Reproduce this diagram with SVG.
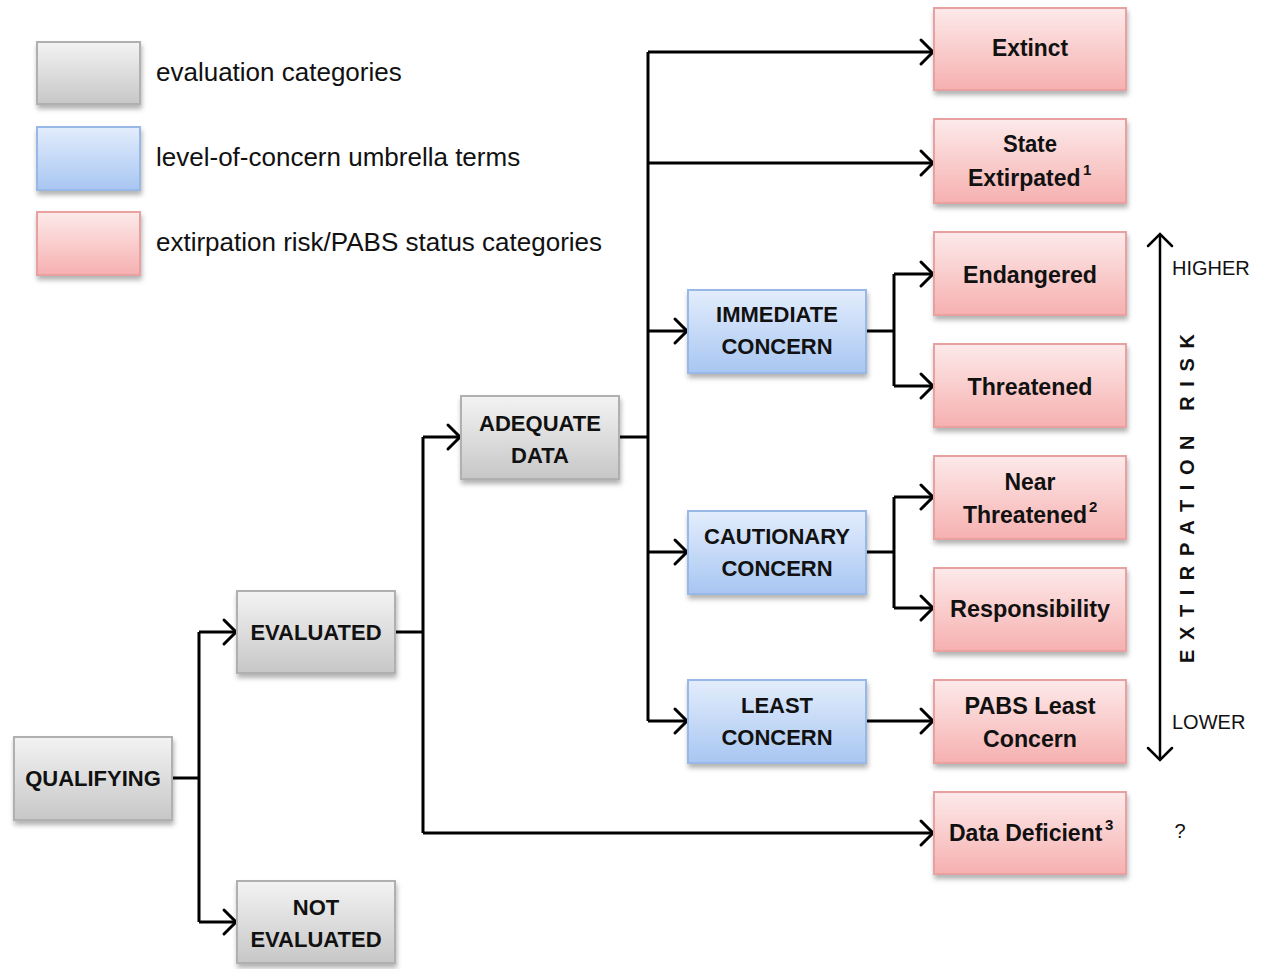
<svg xmlns="http://www.w3.org/2000/svg" width="1262" height="969" viewBox="0 0 1262 969">
<defs>
<linearGradient id="gGray" x1="0" y1="0" x2="0" y2="1"><stop offset="0" stop-color="#f3f3f3"/><stop offset="1" stop-color="#c7c7c7"/></linearGradient>
<linearGradient id="gBlue" x1="0" y1="0" x2="0" y2="1"><stop offset="0" stop-color="#e3edfc"/><stop offset="1" stop-color="#a8c6f2"/></linearGradient>
<linearGradient id="gPink" x1="0" y1="0" x2="0" y2="1"><stop offset="0" stop-color="#fdeaea"/><stop offset="1" stop-color="#f6b0b0"/></linearGradient>
<filter id="sh" x="-10%" y="-10%" width="125%" height="135%"><feDropShadow dx="1" dy="4" stdDeviation="2.5" flood-color="#000" flood-opacity="0.3"/></filter>
<marker id="arr" markerUnits="userSpaceOnUse" markerWidth="20" markerHeight="30" viewBox="0 0 20 30" refX="16" refY="15" orient="auto"><path d="M4,3 L16,15 L4,27" fill="none" stroke="#000" stroke-width="3" stroke-linecap="round"/></marker>
<marker id="arrS" markerUnits="userSpaceOnUse" markerWidth="20" markerHeight="30" viewBox="0 0 20 30" refX="16" refY="15" orient="auto-start-reverse"><path d="M4,3 L16,15 L4,27" fill="none" stroke="#000" stroke-width="2.5" stroke-linecap="round"/></marker>
</defs>
<style>
.gray{fill:url(#gGray);stroke:#b0b0b0;stroke-width:2;filter:url(#sh)}
.blue{fill:url(#gBlue);stroke:#98b8e8;stroke-width:2;filter:url(#sh)}
.pink{fill:url(#gPink);stroke:#e8a0a0;stroke-width:2;filter:url(#sh)}
.cap{font-family:"Liberation Sans",Arial,sans-serif;font-weight:bold;font-size:22px;fill:#111;text-anchor:middle}
.pt{font-family:"Liberation Sans",Arial,sans-serif;font-weight:bold;font-size:24px;fill:#111;text-anchor:middle}
.pts{font-family:"Liberation Sans",Arial,sans-serif;font-weight:bold;font-size:23px;fill:#111}
.sup{font-family:"Liberation Sans",Arial,sans-serif;font-weight:bold;font-size:15px;fill:#111}
.leg{font-family:"Liberation Sans",Arial,sans-serif;font-size:26px;fill:#111}
.sm{font-family:"Liberation Sans",Arial,sans-serif;font-size:20px;fill:#111}
.ln{fill:none;stroke:#000;stroke-width:3}
</style>
<g id="legend">
<rect class="gray" x="37" y="42" width="103" height="62"/>
<rect class="blue" x="37" y="127" width="103" height="63"/>
<rect class="pink" x="37" y="212" width="103" height="63"/>
<text class="leg" x="156" y="81">evaluation categories</text>
<text class="leg" x="156" y="166">level-of-concern umbrella terms</text>
<text class="leg" x="156" y="251">extirpation risk/PABS status categories</text>
</g>
<g id="connectors">
<path class="ln" d="M172,778 H199"/>
<path class="ln" d="M199,632 V922"/>
<path class="ln" d="M199,632 H236" marker-end="url(#arr)"/>
<path class="ln" d="M199,922 H236" marker-end="url(#arr)"/>
<path class="ln" d="M395,632 H423"/>
<path class="ln" d="M423,437 V833"/>
<path class="ln" d="M423,437 H460" marker-end="url(#arr)"/>
<path class="ln" d="M423,833 H933" marker-end="url(#arr)"/>
<path class="ln" d="M619,437 H648"/>
<path class="ln" d="M648,52 V721"/>
<path class="ln" d="M648,52 H933" marker-end="url(#arr)"/>
<path class="ln" d="M648,163 H933" marker-end="url(#arr)"/>
<path class="ln" d="M648,331 H687" marker-end="url(#arr)"/>
<path class="ln" d="M648,552 H687" marker-end="url(#arr)"/>
<path class="ln" d="M648,721 H687" marker-end="url(#arr)"/>
<path class="ln" d="M866,331 H894"/>
<path class="ln" d="M894,274 V386"/>
<path class="ln" d="M894,274 H933" marker-end="url(#arr)"/>
<path class="ln" d="M894,386 H933" marker-end="url(#arr)"/>
<path class="ln" d="M866,552 H894"/>
<path class="ln" d="M894,497 V608"/>
<path class="ln" d="M894,497 H933" marker-end="url(#arr)"/>
<path class="ln" d="M894,608 H933" marker-end="url(#arr)"/>
<path class="ln" d="M866,721 H933" marker-end="url(#arr)"/>
</g>
<g id="qualifying"><rect class="gray" x="14" y="737" width="158" height="83"/><text class="cap" x="93" y="786">QUALIFYING</text></g>
<g id="evaluated"><rect class="gray" x="237" y="591" width="158" height="82"/><text class="cap" x="316" y="640">EVALUATED</text></g>
<g id="not-evaluated"><rect class="gray" x="237" y="881" width="158" height="82"/><text class="cap" x="316" y="915">NOT</text><text class="cap" x="316" y="947">EVALUATED</text></g>
<g id="adequate-data"><rect class="gray" x="461" y="396" width="158" height="83"/><text class="cap" x="540" y="431">ADEQUATE</text><text class="cap" x="540" y="463">DATA</text></g>
<g id="immediate-concern"><rect class="blue" x="688" y="290" width="178" height="83"/><text class="cap" x="777" y="322">IMMEDIATE</text><text class="cap" x="777" y="354">CONCERN</text></g>
<g id="cautionary-concern"><rect class="blue" x="688" y="511" width="178" height="83"/><text class="cap" x="777" y="544">CAUTIONARY</text><text class="cap" x="777" y="576">CONCERN</text></g>
<g id="least-concern"><rect class="blue" x="688" y="680" width="178" height="83"/><text class="cap" x="777" y="713">LEAST</text><text class="cap" x="777" y="745">CONCERN</text></g>
<g id="extinct"><rect class="pink" x="934" y="8" width="192" height="82"/><text class="pt" x="1030" y="56" textLength="76" lengthAdjust="spacingAndGlyphs">Extinct</text></g>
<g id="state-extirpated"><rect class="pink" x="934" y="119" width="192" height="84"/><text class="pt" x="1030" y="152" textLength="54" lengthAdjust="spacingAndGlyphs">State</text><text class="pts" x="968" y="186">Extirpated</text><text class="sup" x="1083" y="175">1</text></g>
<g id="endangered"><rect class="pink" x="934" y="232" width="192" height="83"/><text class="pt" x="1030" y="283" textLength="134" lengthAdjust="spacingAndGlyphs">Endangered</text></g>
<g id="threatened"><rect class="pink" x="934" y="344" width="192" height="83"/><text class="pt" x="1030" y="395" textLength="125" lengthAdjust="spacingAndGlyphs">Threatened</text></g>
<g id="near-threatened"><rect class="pink" x="934" y="456" width="192" height="83"/><text class="pt" x="1030" y="490" textLength="51" lengthAdjust="spacingAndGlyphs">Near</text><text class="pts" x="963" y="523">Threatened</text><text class="sup" x="1089" y="512">2</text></g>
<g id="responsibility"><rect class="pink" x="934" y="568" width="192" height="83"/><text class="pt" x="1030" y="617" textLength="160" lengthAdjust="spacingAndGlyphs">Responsibility</text></g>
<g id="pabs-least-concern"><rect class="pink" x="934" y="680" width="192" height="83"/><text class="pt" x="1030" y="714" textLength="131" lengthAdjust="spacingAndGlyphs">PABS Least</text><text class="pt" x="1030" y="747" textLength="94" lengthAdjust="spacingAndGlyphs">Concern</text></g>
<g id="data-deficient"><rect class="pink" x="934" y="792" width="192" height="82"/><text class="pts" x="949" y="841">Data Deficient</text><text class="sup" x="1105" y="830">3</text></g>
<g id="risk-scale">
<path d="M1160,234 V760" fill="none" stroke="#000" stroke-width="2.5" marker-start="url(#arrS)" marker-end="url(#arrS)"/>
<text class="sm" x="1172" y="275">HIGHER</text>
<text class="sm" x="1172" y="729">LOWER</text>
<text transform="translate(1194,663) rotate(-90)" font-family="'Liberation Sans',Arial,sans-serif" font-weight="bold" font-size="20" letter-spacing="9.6" fill="#111">EXTIRPATION RISK</text>
<text class="sm" x="1180" y="838" text-anchor="middle">?</text>
</g>
</svg>
